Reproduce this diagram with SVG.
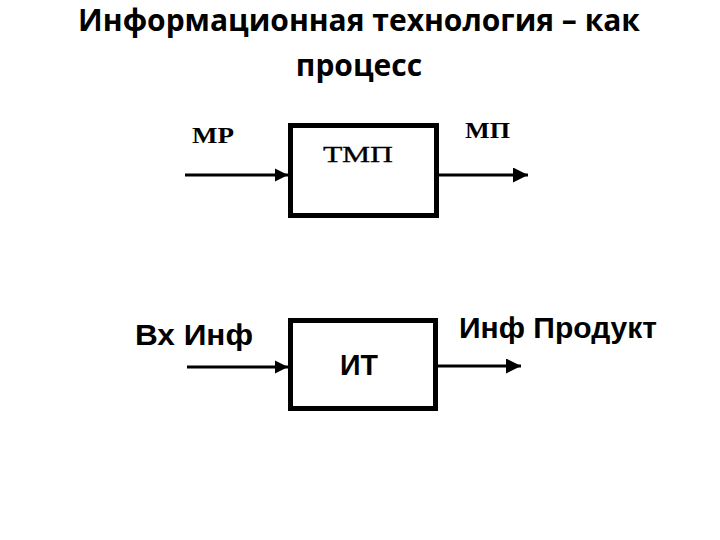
<svg xmlns="http://www.w3.org/2000/svg" width="720" height="540" viewBox="0 0 720 540">
<style>
.title{font-family:"Open Sans","Noto Sans",sans-serif;font-weight:bold;font-size:30px;fill:#000;text-anchor:middle}
.serif{font-family:"Liberation Serif",serif;font-size:24px;fill:#000}
.sans{font-family:"Liberation Sans",Arial,sans-serif;font-size:30px;fill:#000;font-weight:bold}
.box{fill:#fff;stroke:#000;stroke-width:5}
.conn{stroke:#000;stroke-width:3;fill:none}
</style>
<defs>
<marker id="ah" viewBox="0 0 10 10" refX="10" refY="5" markerWidth="4.5" markerHeight="4.5" markerUnits="strokeWidth" orient="auto">
<path d="M0,0 L10,5 L0,10 Z" fill="#000"/>
</marker>
<marker id="ahb" viewBox="0 0 10 10" refX="10" refY="5" markerWidth="5.5" markerHeight="5" markerUnits="strokeWidth" orient="auto">
<path d="M0,0 L10,5 L0,10 Z" fill="#000"/>
</marker>
</defs>
<rect width="720" height="540" fill="#fff"/>
<g id="title">
<text class="title" x="359" y="31">Информационная технология – как</text>
<text class="title" x="359" y="76">процесс</text>
</g>
<g id="connectors">
<line class="conn" x1="185" y1="175" x2="288" y2="175" marker-end="url(#ah)"/>
<line class="conn" x1="439" y1="175" x2="528" y2="175" stroke-width="3.5" marker-end="url(#ahb)"/>
<line class="conn" x1="187" y1="367" x2="288" y2="367" marker-end="url(#ah)"/>
<line class="conn" x1="438" y1="366" x2="521" y2="366" stroke-width="3.5" marker-end="url(#ahb)"/>
</g>
<g id="node-tmp">
<rect class="box" x="290.5" y="125.5" width="146" height="90"/>
<text class="serif" x="323" y="162" font-size="33" stroke="#000" stroke-width="0.3" textLength="70" lengthAdjust="spacingAndGlyphs">ТМП</text>
</g>
<g id="node-it">
<rect class="box" x="290.5" y="320.5" width="145" height="88"/>
<text class="sans" x="340" y="375" font-size="29" textLength="38" lengthAdjust="spacingAndGlyphs">ИТ</text>
</g>
<g id="labels">
<text class="serif" x="192" y="143" font-weight="bold" font-size="23" textLength="42" lengthAdjust="spacingAndGlyphs">МР</text>
<text class="serif" x="465" y="138" font-weight="bold" font-size="23" textLength="45" lengthAdjust="spacingAndGlyphs">МП</text>
<text class="sans" x="135" y="345" textLength="118" lengthAdjust="spacingAndGlyphs">Вх Инф</text>
<text class="sans" x="459" y="338" textLength="198" lengthAdjust="spacingAndGlyphs">Инф Продукт</text>
</g>
</svg>
